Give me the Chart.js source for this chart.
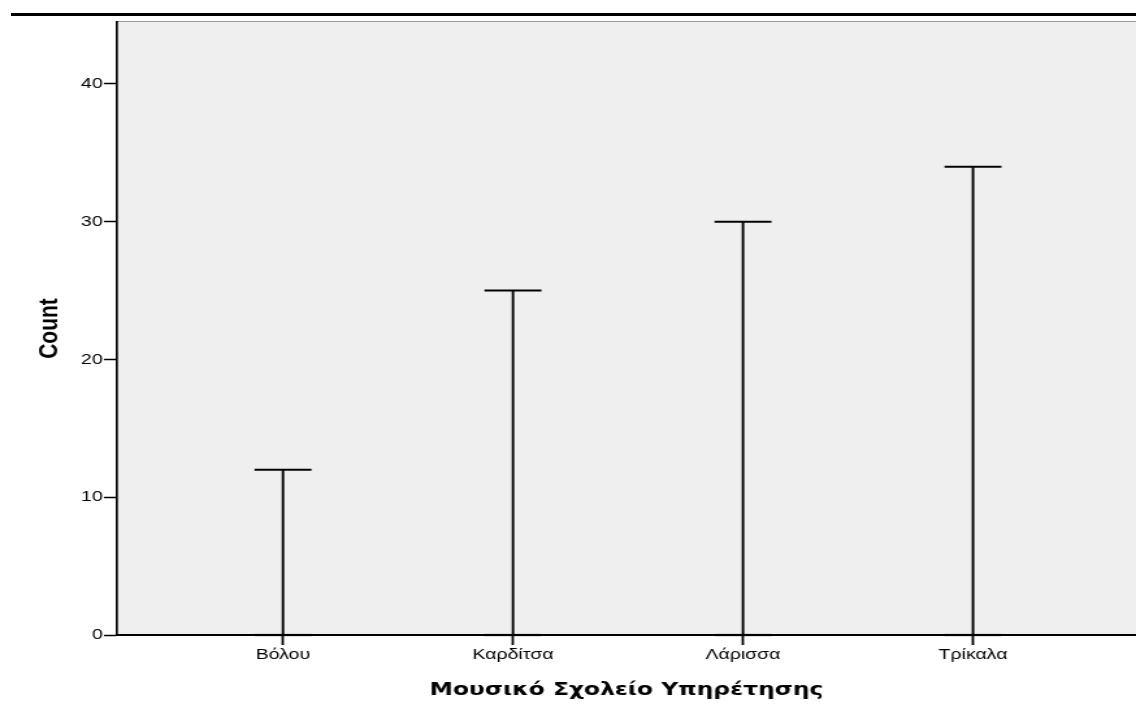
<!DOCTYPE html>
<html>
<head>
<meta charset="utf-8">
<script src="https://cdn.jsdelivr.net/npm/chart.js@4/dist/chart.umd.min.js"></script>
<style>
  html, body { margin: 0; padding: 0; background: #fff; overflow: hidden; }
  #wrap { position: relative; width: 1136px; height: 711px; }
  #topline { position: absolute; left: 11px; top: 13px; width: 1125px; height: 3px; background: #000; }
  #c { position: absolute; left: 0; top: 0; transform-origin: 0 0; }
</style>
</head>
<body>
<div id="wrap">
  <div id="topline"></div>
  <canvas id="c" width="874" height="711" style="width:874px;height:711px"></canvas>
</div>
<script>
// ---- data ----
const categories = ["Βόλου", "Καρδίτσα", "Λάρισσα", "Τρίκαλα"];
const counts = [12, 25, 30, 34];
const yTickValues = [0, 10, 20, 30, 40];
const xTitle = "Μουσικό Σχολείο Υπηρέτησης";
const yTitle = "Count";

// ---- layout helpers ----
const SX = 1136 / 874;           // horizontal stretch of the picture
document.getElementById('c').style.transform = 'scaleX(' + SX + ')';

// stems: vertical drop lines from 0 to the count
const stemPoints = [];
counts.forEach((v, i) => {
  stemPoints.push({x: i, y: 0});
  stemPoints.push({x: i, y: v});
  stemPoints.push({x: i, y: null});
});
const capPoints = counts.map((v, i) => ({x: i, y: v}));
const basePoints = counts.map((v, i) => ({x: i, y: 0}));

const bgPlugin = {
  id: 'plotBg',
  beforeDraw(chart) {
    const {ctx, chartArea: a} = chart;
    ctx.save();
    ctx.fillStyle = '#efefef';
    ctx.fillRect(a.left, a.top, a.right - a.left, a.bottom - a.top);
    ctx.strokeStyle = '#9a9a9a';
    ctx.lineWidth = 1;
    ctx.beginPath();
    ctx.moveTo(a.left, a.top - 0.5);
    ctx.lineTo(a.right, a.top - 0.5);
    ctx.stroke();
    ctx.restore();
  }
};

Chart.defaults.color = '#000';
Chart.defaults.font.family = '"Liberation Sans", Arial, sans-serif';

new Chart(document.getElementById('c'), {
  type: 'scatter',
  data: {
    datasets: [
      {
        type: 'line',
        data: stemPoints,
        borderColor: '#000',
        borderWidth: 1.9,
        pointRadius: 0,
        spanGaps: false,
        clip: false,
        order: 2
      },
      {
        data: basePoints,
        pointStyle: 'line',
        pointRadius: 21.9,
        pointBorderWidth: 3,
        borderColor: '#c4c4c4',
        backgroundColor: '#c4c4c4',
        clip: false,
        order: 3
      },
      {
        data: capPoints,
        pointStyle: 'line',
        pointRadius: 21.9,
        pointBorderWidth: 2,
        borderColor: '#000',
        backgroundColor: '#000',
        clip: false,
        order: 1
      }
    ]
  },
  options: {
    responsive: false,
    animation: false,
    events: [],
    layout: { autoPadding: false, padding: { top: 22, right: 0, left: 0, bottom: 0 } },
    plugins: { legend: { display: false }, tooltip: { enabled: false } },
    scales: {
      x: {
        type: 'linear',
        min: -0.7217,
        max: 3.7087,
        afterFit(s) { s.height = 76; s.paddingLeft = 0; s.paddingRight = 0; },
        afterBuildTicks(s) { s.ticks = categories.map((c, i) => ({value: i})); },
        ticks: {
          callback: (v) => categories[v],
          font: { size: 15 },
          padding: 1,
          maxRotation: 0,
          autoSkip: false,
          z: 1
        },
        grid: {
          drawOnChartArea: false,
          drawTicks: true,
          tickLength: 10,
          tickColor: '#000',
          tickWidth: 1.8,
          z: 1
        },
        border: { display: true, color: '#000', width: 2, z: 1 },
        title: {
          display: true,
          text: xTitle,
          font: { family: '"DejaVu Sans", sans-serif', size: 18, weight: 'bold' },
          padding: { top: 0, bottom: 10 }
        }
      },
      y: {
        type: 'linear',
        min: 0,
        max: 44.5,
        afterFit(s) { s.width = 90; },
        afterBuildTicks(s) { s.ticks = yTickValues.map(v => ({value: v})); },
        ticks: {
          font: { size: 15 },
          padding: 1
        },
        grid: {
          drawOnChartArea: false,
          drawTicks: true,
          tickLength: 10,
          tickColor: '#000',
          tickWidth: 1.5
        },
        border: { display: true, color: '#000', width: 1.7, z: 1 },
        title: {
          display: true,
          text: yTitle,
          font: { size: 21, weight: 'bold' },
          padding: { top: 26, bottom: 0 }
        }
      }
    }
  },
  plugins: [bgPlugin]
});
</script>
</body>
</html>
